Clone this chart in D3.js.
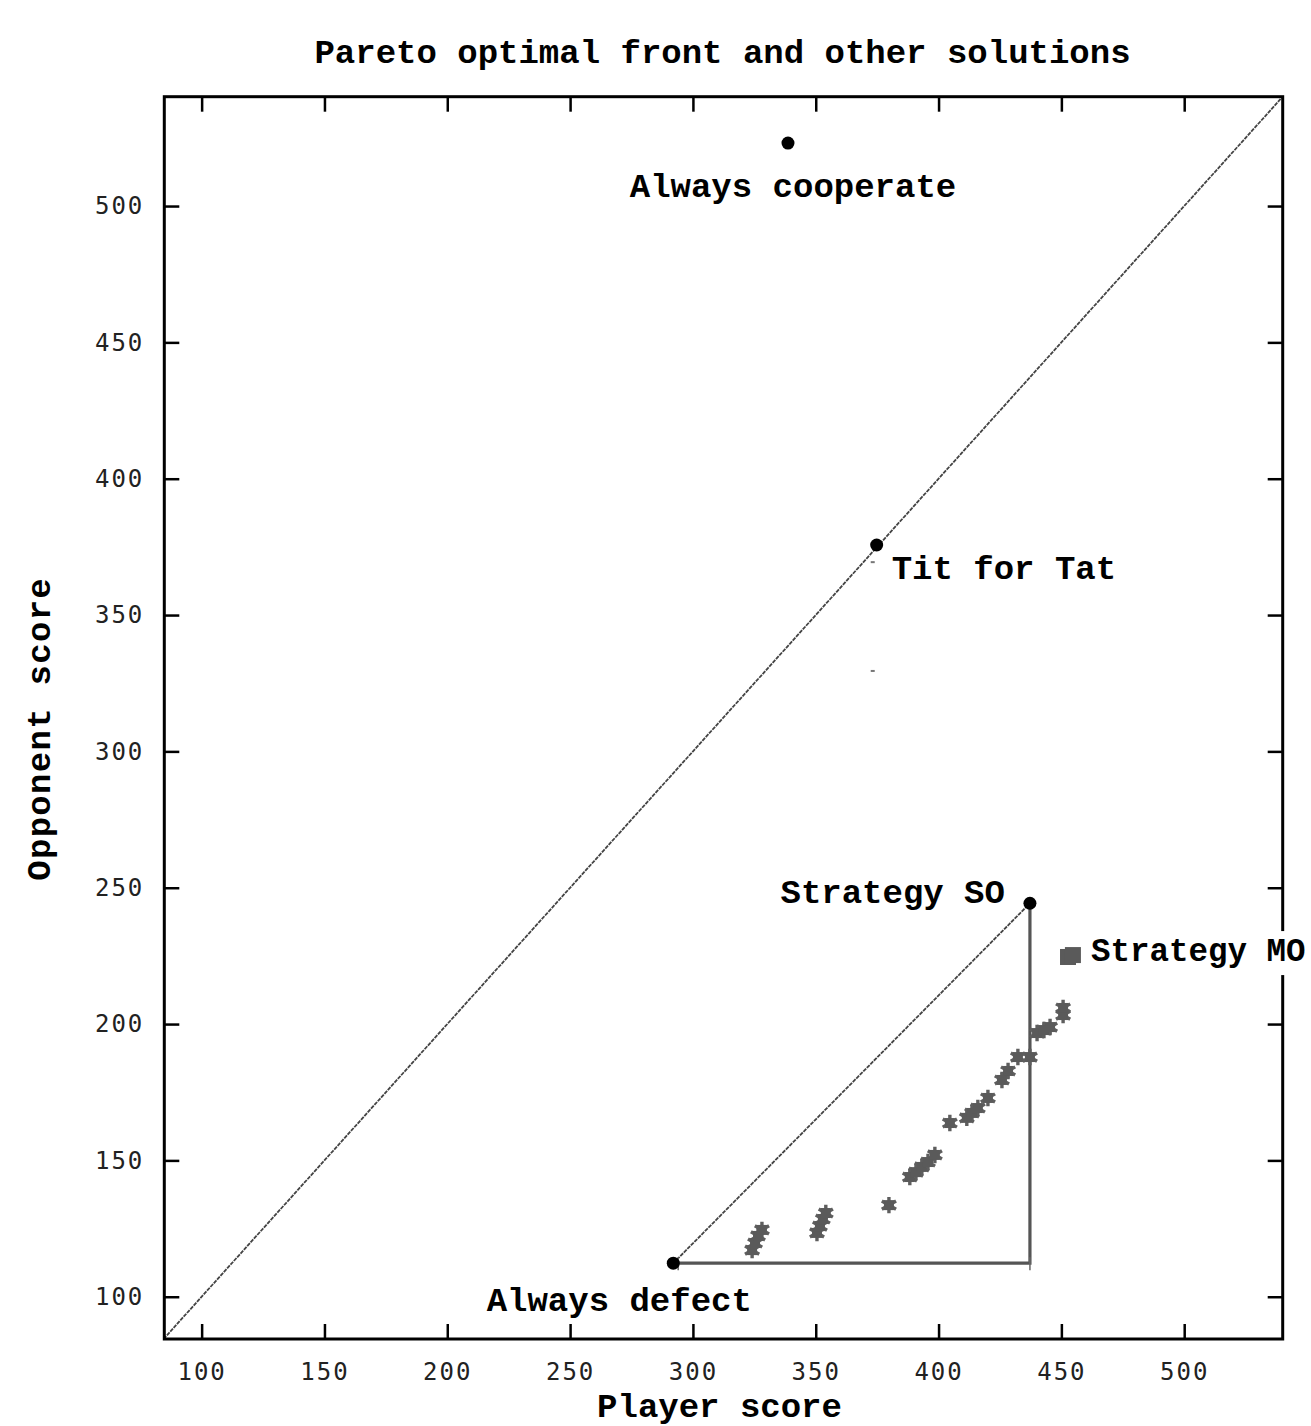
<!DOCTYPE html>
<html>
<head>
<meta charset="utf-8">
<script src="https://cdn.jsdelivr.net/npm/d3@7"></script>
<style>
  body { margin: 0; background: #fff; }
  svg { display: block; }
  .lbl { font-family: "Liberation Mono", "DejaVu Sans Mono", monospace; font-weight: bold; font-size: 34px; fill: #000; }
  .tick text { font-family: "DejaVu Sans Mono", monospace; font-size: 24px; fill: #222; letter-spacing: 2px; }
</style>
</head>
<body>
<div id="chart"></div>
<script>
'use strict';

/**** Data ****/
var xTicks = [100, 150, 200, 250, 300, 350, 400, 450, 500];
var yTicks = [100, 150, 200, 250, 300, 350, 400, 450, 500];

// named strategies (black dots)
var strategyNames = ['Always cooperate', 'Tit for Tat', 'Strategy SO', 'Always defect'];
var strategyPlayer = [338.7, 374.8, 437.2, 292.0];
var strategyOpponent = [523.1, 375.7, 244.3, 112.3];

// multi-objective solutions (gray stars)
var moPlayer = [324.1, 325.3, 326.5, 328.1, 350.5, 351.7, 352.9, 354.1, 379.8, 388.3, 390.8, 393.2,
    395.7, 398.5, 404.6, 411.5, 413.6, 416.0, 420.1, 425.8, 428.3, 432.3, 437.2, 440.1, 442.9, 445.4,
    450.7, 450.7];
var moOpponent = [117.1, 119.7, 122.3, 124.5, 123.4, 125.9, 128.5, 130.7, 133.6, 143.9, 145.7, 147.6,
    149.4, 152.0, 163.7, 165.6, 167.4, 169.2, 172.9, 179.5, 182.8, 187.9, 187.9, 196.7, 197.8, 198.9,
    203.3, 205.9];

// legend-like marker next to "Strategy MO"
var moKeyPlayer = [452.7, 454.7];
var moKeyOpponent = [224.6, 225.3];

// stray faint points below Tit for Tat
var faintPlayer = [373.2, 373.2];
var faintOpponent = [369.4, 329.5];

(function() {
    /**** Layout ****/
    var width = 1311, height = 1426;
    var plotLeft = 164.3, plotRight = 1282.7, plotTop = 96.7, plotBottom = 1339;

    var svg = d3.select('#chart').append('svg')
        .attr('width', width)
        .attr('height', height);

    var x = d3.scaleLinear().domain([84.8, 540.1]).range([plotLeft, plotRight]);
    var y = d3.scaleLinear().domain([84.5, 540.1]).range([plotBottom, plotTop]);

    svg.append('defs').append('clipPath').attr('id', 'plotClip')
        .append('rect').attr('x', plotLeft).attr('y', plotTop)
        .attr('width', plotRight - plotLeft).attr('height', plotBottom - plotTop);

    //Axes (ticks inward, mirrored)
    var tickLen = 15;
    svg.append('g')
        .attr('transform', 'translate(0,' + plotBottom + ')')
        .call(d3.axisBottom(x).tickValues(xTicks).tickSizeInner(-tickLen).tickSizeOuter(0).tickPadding(24));
    svg.append('g')
        .attr('transform', 'translate(0,' + plotTop + ')')
        .call(d3.axisTop(x).tickValues(xTicks).tickSizeInner(-tickLen).tickSizeOuter(0).tickFormat(''));
    svg.append('g')
        .attr('transform', 'translate(' + plotLeft + ',0)')
        .call(d3.axisLeft(y).tickValues(yTicks).tickSizeInner(-tickLen).tickSizeOuter(0).tickPadding(20));
    svg.append('g')
        .attr('transform', 'translate(' + plotRight + ',0)')
        .call(d3.axisRight(y).tickValues(yTicks).tickSizeInner(-tickLen).tickSizeOuter(0).tickFormat(''));
    svg.selectAll('.domain').remove();
    svg.selectAll('.tick line').attr('stroke', '#000').attr('stroke-width', 2.5);

    //Diagonal y = x
    svg.append('line')
        .attr('clip-path', 'url(#plotClip)')
        .attr('x1', x(84.5)).attr('y1', y(84.5))
        .attr('x2', x(540.1)).attr('y2', y(540.1))
        .attr('stroke', '#444').attr('stroke-width', 1.8).attr('stroke-dasharray', '4,1');

    //Triangle from Always defect to Strategy SO
    var ad = 3, so = 2;
    svg.append('line')
        .attr('x1', x(strategyPlayer[ad])).attr('y1', y(strategyOpponent[ad]))
        .attr('x2', x(strategyPlayer[so])).attr('y2', y(strategyOpponent[so]))
        .attr('stroke', '#444').attr('stroke-width', 1.8).attr('stroke-dasharray', '4,1');
    svg.append('polyline')
        .attr('points', [
            [x(strategyPlayer[ad]), y(strategyOpponent[ad])],
            [x(strategyPlayer[so]), y(strategyOpponent[ad])],
            [x(strategyPlayer[so]), y(strategyOpponent[so])]
        ].map(function(p) { return p.join(','); }).join(' '))
        .attr('fill', 'none').attr('stroke', '#555').attr('stroke-width', 3.2);
    [strategyPlayer[ad] + 2, strategyPlayer[so]].forEach(function(px) {
        svg.append('line')
            .attr('x1', x(px)).attr('x2', x(px))
            .attr('y1', y(strategyOpponent[ad]) - 6).attr('y2', y(strategyOpponent[ad]) + 7)
            .attr('stroke', '#666').attr('stroke-width', 1.5);
    });

    //Faint points
    svg.selectAll('.faint')
        .data(d3.range(faintPlayer.length))
        .enter().append('rect')
        .attr('class', 'faint')
        .attr('x', function(i) { return x(faintPlayer[i]) - 2; })
        .attr('y', function(i) { return y(faintOpponent[i]) - 1; })
        .attr('width', 4).attr('height', 2)
        .attr('fill', '#777');

    //MO points
    var star = d3.symbol().type(d3.symbolAsterisk).size(190);
    var moGroup = svg.append('g');
    moGroup.selectAll('.mo')
        .data(d3.range(moPlayer.length))
        .enter().append('path')
        .attr('class', 'mo')
        .attr('transform', function(i) { return 'translate(' + x(moPlayer[i]) + ',' + y(moOpponent[i]) + ')'; })
        .attr('d', star)
        .attr('fill', 'none').attr('stroke', '#5e5e5e').attr('stroke-width', 3.4);
    moGroup.selectAll('.moBlob')
        .data(d3.range(moPlayer.length))
        .enter().append('rect')
        .attr('class', 'moBlob')
        .attr('x', function(i) { return x(moPlayer[i]) - 5; })
        .attr('y', function(i) { return y(moOpponent[i]) - 5; })
        .attr('width', 10).attr('height', 10)
        .attr('fill', '#5a5a5a');

    //MO key marker
    svg.selectAll('.moKey')
        .data(d3.range(moKeyPlayer.length))
        .enter().append('rect')
        .attr('class', 'moKey')
        .attr('x', function(i) { return x(moKeyPlayer[i]) - 8; })
        .attr('y', function(i) { return y(moKeyOpponent[i]) - 8; })
        .attr('width', 16).attr('height', 16)
        .attr('fill', '#5a5a5a');
    var moKeyX = x(moKeyPlayer[1]) + 18, moKeyY = y(moKeyOpponent[1]) + 6;

    //Named strategies
    var labelPlace = [
        { anchor: 'middle', dx: 5, dy: 54 },
        { anchor: 'start', dx: 15, dy: 34 },
        { anchor: 'end', dx: -25, dy: 0 },
        { anchor: 'middle', dx: -54, dy: 48 }
    ];
    svg.selectAll('.named')
        .data(d3.range(strategyNames.length))
        .enter().append('circle')
        .attr('class', 'named')
        .attr('cx', function(i) { return x(strategyPlayer[i]); })
        .attr('cy', function(i) { return y(strategyOpponent[i]); })
        .attr('r', 6.5)
        .attr('fill', '#000');
    svg.selectAll('.namedLabel')
        .data(d3.range(strategyNames.length))
        .enter().append('text')
        .attr('class', 'lbl namedLabel')
        .attr('x', function(i) { return x(strategyPlayer[i]) + labelPlace[i].dx; })
        .attr('y', function(i) { return y(strategyOpponent[i]) + labelPlace[i].dy; })
        .attr('text-anchor', function(i) { return labelPlace[i].anchor; })
        .text(function(i) { return strategyNames[i]; });

    //Frame
    svg.append('rect')
        .attr('x', plotLeft).attr('y', plotTop)
        .attr('width', plotRight - plotLeft).attr('height', plotBottom - plotTop)
        .attr('fill', 'none').attr('stroke', '#000').attr('stroke-width', 3);

    //"Strategy MO" label on a white box, covering the frame
    svg.append('rect')
        .attr('x', moKeyX - 2).attr('y', moKeyY - 30)
        .attr('width', width - moKeyX + 2).attr('height', 44)
        .attr('fill', '#fff');
    svg.append('text')
        .attr('class', 'lbl')
        .attr('x', moKeyX).attr('y', moKeyY)
        .style('font-size', '32.5px')
        .text('Strategy MO');

    //Titles
    svg.append('text')
        .attr('class', 'lbl')
        .attr('x', (plotLeft + plotRight) / 2 - 1).attr('y', 63)
        .attr('text-anchor', 'middle')
        .text('Pareto optimal front and other solutions');
    svg.append('text')
        .attr('class', 'lbl')
        .attr('x', (plotLeft + plotRight) / 2 - 4).attr('y', 1417)
        .attr('text-anchor', 'middle')
        .text('Player score');
    svg.append('text')
        .attr('class', 'lbl')
        .attr('transform', 'translate(50,' + ((plotTop + plotBottom) / 2 + 11) + ') rotate(-90)')
        .attr('text-anchor', 'middle')
        .style('letter-spacing', '1.3px')
        .text('Opponent score');
})();
</script>
</body>
</html>
